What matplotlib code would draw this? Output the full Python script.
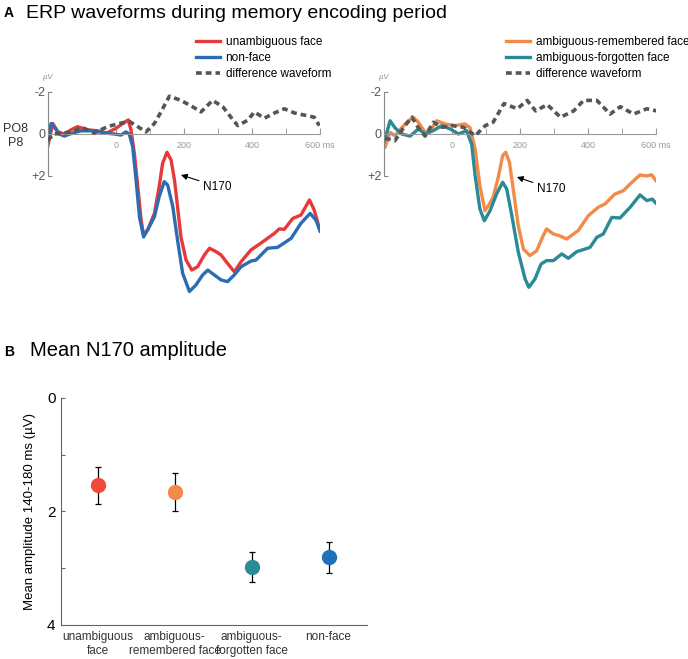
import numpy as np
import matplotlib
matplotlib.use("Agg")
import matplotlib.pyplot as plt
from matplotlib.lines import Line2D

plt.rcParams["font.family"] = ["Liberation Sans", "DejaVu Sans"]

# ---- panel A data (time in ms, amplitude in uV, negative up) ----
t_unamb = [-201, -186, -171, -151, -132, -113, -84, -52, -27, 0, 20, 36, 44, 54, 64, 74,
           81, 93, 113, 127, 137, 150, 162, 172, 181, 191, 206, 223, 240, 260, 275, 294,
           309, 328, 348, 368, 397, 426, 466, 480, 495, 520, 544, 569, 583, 601]
v_unamb = [0.6, -0.5, -0.1, 0.0, -0.2, -0.35, -0.2, -0.15, -0.05, -0.27, -0.5, -0.67, -0.2,
           0.92, 2.5, 4.1, 4.8, 4.57, 3.78, 2.5, 1.4, 0.87, 1.24, 2.19, 3.46, 4.9, 6.0, 6.48,
           6.32, 5.76, 5.44, 5.6, 5.76, 6.16, 6.56, 6.08, 5.52, 5.2, 4.73, 4.52, 4.54, 4.02,
           3.86, 3.14, 3.62, 4.65]

t_nonface = [-202, -191, -182, -167, -152, -127, -103, -64, -34, -5, 15, 29, 39, 49, 59, 69,
             81, 93, 113, 127, 142, 152, 167, 181, 196, 216, 235, 255, 270, 289, 309, 328,
             348, 368, 397, 412, 446, 475, 515, 544, 571, 588, 601]
v_nonface = [0.4, -0.5, -0.35, 0.0, 0.1, -0.05, -0.15, -0.15, -0.05, 0.0, 0.05, -0.1, 0.0,
             0.6, 2.19, 3.94, 4.9, 4.57, 3.94, 2.98, 2.27, 2.43, 3.46, 5.05, 6.63, 7.5, 7.19,
             6.71, 6.48, 6.71, 6.95, 7.03, 6.71, 6.32, 6.05, 6.0, 5.44, 5.4, 4.97, 4.25,
             3.78, 4.1, 4.65]

t_diff1 = [-201, -182, -152, -123, -98, -64, -25, 10, 39, 64, 88, 113, 127, 157, 191, 225,
           250, 284, 314, 338, 358, 387, 407, 436, 466, 495, 525, 554, 583, 598]
v_diff1 = [0.3, 0.0, -0.05, -0.15, -0.3, -0.05, -0.35, -0.5, -0.6, -0.35, -0.1, -0.5, -0.9,
           -1.8, -1.6, -1.3, -1.05, -1.6, -1.3, -0.8, -0.4, -0.65, -1.05, -0.75, -1.0, -1.2,
           -1.0, -0.9, -0.8, -0.4]

t_amb_rem = [-197, -182, -168, -153, -133, -114, -99, -79, -64, -45, -21, 9, 38, 53, 68, 82,
             97, 107, 121, 136, 149, 158, 169, 180, 195, 210, 229, 249, 266, 278, 298, 317,
             337, 371, 401, 430, 450, 479, 504, 529, 553, 572, 587, 602]
v_amb_rem = [0.63, -0.08, 0.08, -0.2, -0.56, -0.8, -0.56, -0.08, -0.15, -0.63, -0.48, -0.4,
             -0.48, -0.3, 0.71, 2.46, 3.65, 3.41, 3.02, 2.06, 1.03, 0.87, 1.35, 2.62, 4.37,
             5.48, 5.79, 5.56, 4.92, 4.52, 4.76, 4.85, 5.0, 4.6, 3.89, 3.49, 3.33, 2.86,
             2.7, 2.3, 1.95, 2.0, 1.94, 2.27]

t_amb_forg = [-200, -182, -168, -148, -123, -99, -79, -55, -30, -5, 19, 43, 58, 68, 82, 95,
              112, 131, 149, 161, 176, 195, 215, 226, 244, 262, 278, 298, 323, 342, 367,
              391, 406, 426, 445, 470, 494, 524, 553, 573, 589, 602]
v_amb_forg = [0.4, -0.63, -0.3, 0.0, 0.1, -0.24, 0.0, -0.16, -0.4, -0.24, 0.0, -0.16, 0.5,
              1.98, 3.57, 4.13, 3.65, 2.86, 2.3, 2.62, 3.89, 5.63, 6.9, 7.3, 6.9, 6.19, 6.03,
              6.03, 5.71, 5.92, 5.6, 5.48, 5.4, 4.92, 4.76, 3.97, 4.0, 3.49, 2.9, 3.17, 3.1,
              3.33]

t_diff2 = [-197, -168, -138, -118, -99, -79, -55, -30, 0, 34, 68, 98, 121, 153, 192, 221,
           246, 280, 319, 358, 387, 426, 465, 495, 534, 573, 602]
v_diff2 = [0.2, 0.32, -0.4, -0.8, -0.3, 0.1, -0.56, -0.32, -0.4, -0.32, 0.08, -0.4, -0.56,
           -1.45, -1.2, -1.6, -1.1, -1.4, -0.8, -1.1, -1.6, -1.6, -0.95, -1.3, -0.95, -1.2,
           -1.1]

# ---- panel B data ----
conditions = ["unambiguous\nface", "ambiguous-\nremembered face",
              "ambiguous-\nforgotten face", "non-face"]
mean_amp = [1.54, 1.66, 2.98, 2.81]
sem_amp = [0.32, 0.33, 0.27, 0.28]

RED = "#e8393a"
BLUE = "#2b6cb3"
ORANGE = "#f28a48"
TEAL = "#2a8a96"
B_COLORS = ["#f04a3a", "#f5894a", "#2a8a96", "#1f72b8"]
DASH = (0, (1.6, 1.1))

W, H = 688, 659
fig = plt.figure(figsize=(W / 100, H / 100), dpi=100)


def fx(px):
    return px / W


def fy(px):
    return 1 - px / H


def erp_axes(left_px, series, ann_head, ann_text):
    # -200..600 ms over 272 px, 21 px per uV, 0 uV at y=134
    ax = fig.add_axes([fx(left_px), fy(300), 272 / W, 212 / H])
    ax.set_xlim(-200, 600)
    ax.set_ylim((300 - 134) / 21, (88 - 134) / 21)
    ax.patch.set_alpha(0)
    for t, v, c in series:
        if c is None:
            ax.plot(t, v, color="#555555", lw=2.6, ls=DASH, zorder=3)
        else:
            ax.plot(t, v, color=c, lw=2.4, zorder=2, solid_capstyle="round",
                    solid_joinstyle="round")
    for s in ["top", "right"]:
        ax.spines[s].set_visible(False)
    ax.spines["left"].set_bounds(-2, 2)
    ax.spines["left"].set_color("#888888")
    ax.spines["bottom"].set_position(("data", 0))
    ax.spines["bottom"].set_color("#999999")
    ax.spines["bottom"].set_bounds(-200, 600)
    ax.set_yticks([-2, 0, 2])
    ax.set_yticklabels(["-2", "0", "+2"], fontsize=9, color="#555555")
    ax.tick_params(axis="y", direction="in", length=3, color="#888888", pad=2)
    ax.set_xticks([0, 200, 400, 600])
    ax.set_xticklabels(["0", "200", "400", "600 ms"], fontsize=6.5, color="#999999")
    ax.set_xticks([100, 300, 500], minor=True)
    ax.tick_params(axis="x", which="both", direction="in", length=4, color="#999999", pad=5)
    ax.text(-200, -2.6, "µV", fontsize=5.5, style="italic", color="#888888", ha="center")
    ax.annotate("N170", xy=ann_head, xytext=ann_text, fontsize=8.5, ha="left", va="center",
                arrowprops=dict(arrowstyle="-|>", color="black", lw=0.8,
                                mutation_scale=9, shrinkA=1, shrinkB=0))
    return ax


axL = erp_axes(48, [(t_unamb, v_unamb, RED), (t_nonface, v_nonface, BLUE),
                    (t_diff1, v_diff1, None)], (191, 1.95), (256, 2.5))
axR = erp_axes(384, [(t_amb_rem, v_amb_rem, ORANGE), (t_amb_forg, v_amb_forg, TEAL),
                     (t_diff2, v_diff2, None)], (191, 2.05), (250, 2.6))


def legend_at(x_px, y_px, entries):
    handles = []
    for lab, c in entries:
        if c is None:
            handles.append(Line2D([], [], color="#555555", lw=2.6, ls=DASH, label=lab))
        else:
            handles.append(Line2D([], [], color=c, lw=2.4, label=lab))
    fig.legend(handles=handles, loc="upper left", bbox_to_anchor=(fx(x_px), fy(y_px)),
               frameon=False, fontsize=8.5, handlelength=2.0, handletextpad=0.5,
               labelspacing=0.35, borderpad=0, borderaxespad=0)


legend_at(196, 36, [("unambiguous face", RED), ("non-face", BLUE),
                    ("difference waveform", None)])
legend_at(506, 36, [("ambiguous-remembered face", ORANGE),
                    ("ambiguous-forgotten face", TEAL),
                    ("difference waveform", None)])

fig.text(fx(15), fy(129), "PO8", fontsize=9, ha="center", va="center", color="#333333")
fig.text(fx(16), fy(143), "P8", fontsize=9, ha="center", va="center", color="#333333")

fig.text(fx(4), fy(13), "A", fontsize=10, fontweight="bold", va="center")
fig.text(fx(26), fy(13), "ERP waveforms during memory encoding period", fontsize=14,
         va="center")
fig.text(fx(4), fy(352), "B", fontsize=10, fontweight="bold", va="center")
fig.text(fx(30), fy(351), "Mean N170 amplitude", fontsize=14.5, va="center")

# ---- panel B ----
axB = fig.add_axes([fx(61), fy(625), 306 / W, 227 / H])
xpos = np.arange(1, len(conditions) + 1)
for x, m, e, c in zip(xpos, mean_amp, sem_amp, B_COLORS):
    axB.errorbar(x, m, yerr=e, fmt="none", ecolor="black", elinewidth=0.9, capsize=2.5,
                 capthick=0.9, zorder=2)
    axB.plot(x, m, "o", ms=10, color=c, mec=c, zorder=3)
axB.set_xlim(0.52, 4.5)
axB.set_ylim(4, 0)
axB.set_yticks([0, 1, 2, 3, 4])
axB.set_yticklabels(["0", "", "2", "", "4"], fontsize=11)
axB.tick_params(axis="y", direction="in", length=3, color="#666666", pad=4)
axB.set_xticks(xpos)
axB.set_xticklabels(conditions, fontsize=8.5, color="#333333", linespacing=1.3)
axB.tick_params(axis="x", length=0, pad=4)
for s in ["top", "right"]:
    axB.spines[s].set_visible(False)
axB.spines["left"].set_color("#666666")
axB.spines["bottom"].set_color("#666666")
axB.set_ylabel("Mean amplitude 140-180 ms (µV)", fontsize=9.5, labelpad=8)

fig.savefig("out.png", dpi=100)
